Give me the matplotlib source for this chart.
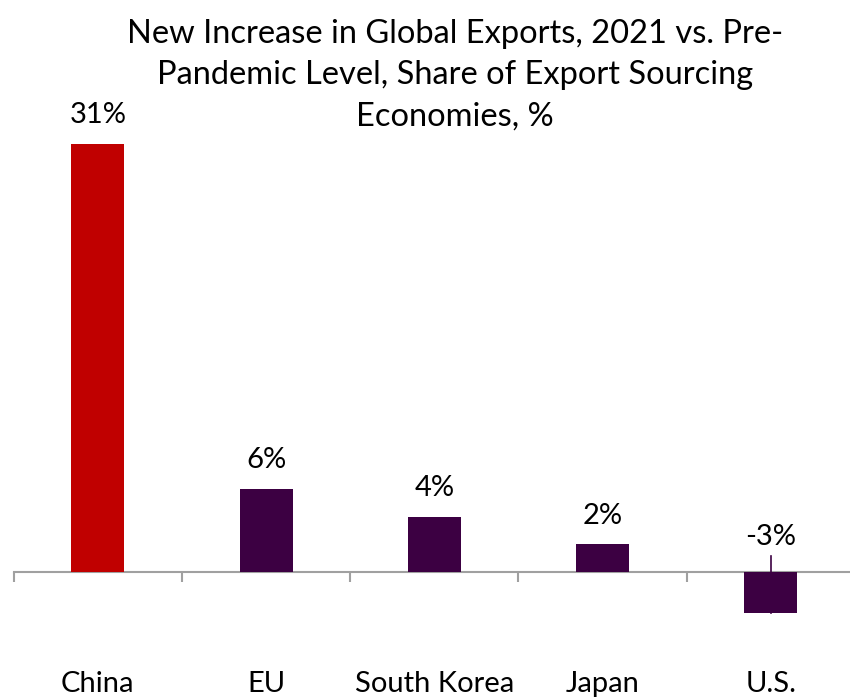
import matplotlib
matplotlib.use("Agg")
import matplotlib.pyplot as plt
from matplotlib.ticker import FixedLocator, NullFormatter

categories = ["China", "EU", "South Korea", "Japan", "U.S."]
values = [31, 6, 4, 2, -3]
labels = ["31%", "6%", "4%", "2%", "-3%"]
colors = ["#C00000", "#3C0042", "#3C0042", "#3C0042", "#3C0042"]
title = "New Increase in Global Exports, 2021 vs. Pre-\nPandemic Level, Share of Export Sourcing\nEconomies, %"

plt.rcParams['font.family'] = ['Lato', 'DejaVu Sans']

W, H = 850, 697
fig = plt.figure(figsize=(W/100, H/100), dpi=100)
ymin, ymax = -8, 32
ppu = 13.8
y0 = 572
top_px = y0 - ymax*ppu
bot_px = y0 - ymin*ppu
left_px, right_px = 13.7, 855
ax = fig.add_axes([left_px/W, (H-bot_px)/H, (right_px-left_px)/W, (bot_px-top_px)/H])
ax.set_xlim(-0.5, len(categories)-0.5)
ax.set_ylim(ymin, ymax)

x = list(range(len(categories)))
ax.bar(x, values, width=0.315, color=colors, zorder=2)

for s in ['top', 'right', 'left']:
    ax.spines[s].set_visible(False)
ax.spines['bottom'].set_position(('data', 0))
ax.spines['bottom'].set_color('#A0A0A0')
ax.spines['bottom'].set_linewidth(1.5)
ax.spines['bottom'].set_zorder(1)
ax.set_yticks([])
ax.xaxis.set_major_locator(FixedLocator([i - 0.5 for i in range(len(categories)+1)]))
ax.xaxis.set_major_formatter(NullFormatter())
ax.tick_params(axis='x', direction='out', length=7.5, width=1.5, color='#A0A0A0')

for i, (v, lab) in enumerate(zip(values, labels)):
    if v >= 0:
        ax.annotate(lab, (i, v), xytext=(0, 15), textcoords='offset points',
                    ha='center', va='baseline', fontsize=21, color='black')
    else:
        ax.annotate(lab, (i, 0), xytext=(0, 19.5), textcoords='offset points',
                    ha='center', va='baseline', fontsize=21, color='black')
        ax.plot([i, i], [v, 16/ppu], color=colors[i], lw=1.2, zorder=3)
    ax.text(i, ymin - 0.15, categories[i], ha='center', va='center', fontsize=21, color='black')

fig.text(455/W, 1 - 19/H, title, ha='center', va='top', fontsize=23.5,
         linespacing=1.47, color='black')

fig.savefig("out.png", dpi=100)
